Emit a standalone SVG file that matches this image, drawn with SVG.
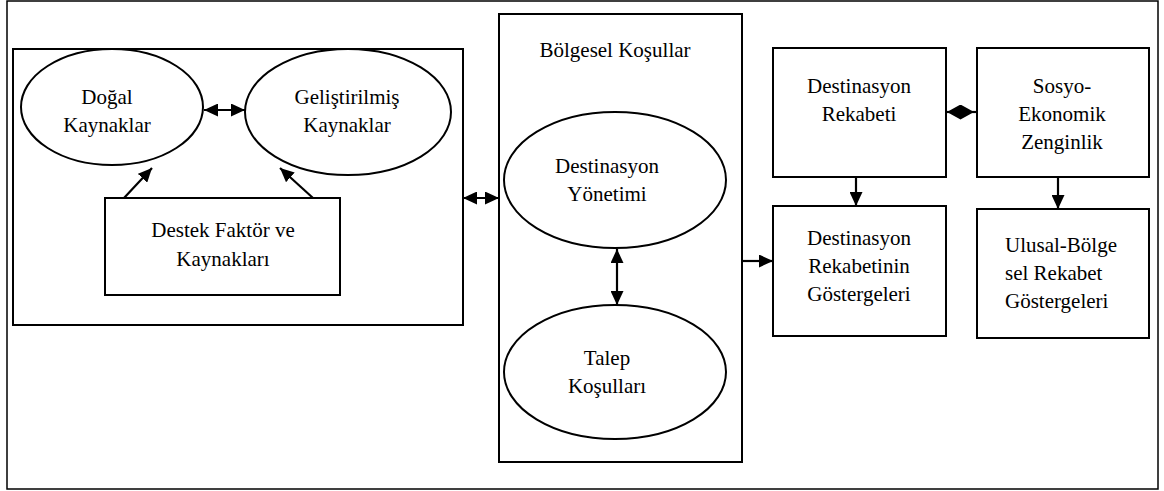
<svg xmlns="http://www.w3.org/2000/svg" width="1164" height="491" viewBox="0 0 1164 491">
<style>
.box{fill:#fff;stroke:#000;stroke-width:2}
.ell{fill:#fff;stroke:#000;stroke-width:2}
.frame{fill:#fff;stroke:#000;stroke-width:1.5}
text{font-family:'Liberation Serif','DejaVu Serif',serif;font-size:21px;fill:#000;text-anchor:middle}
.conn line{stroke:#000;stroke-width:2.2}
</style>
<defs>
<marker id="ah" viewBox="0 0 14 13" refX="14" refY="6.5" markerWidth="14" markerHeight="13" markerUnits="userSpaceOnUse" orient="auto-start-reverse">
<path d="M0,0 L14,6.5 L0,13 z" fill="#000"/>
</marker>
<marker id="dm" viewBox="0 0 27 15" refX="27" refY="7.5" markerWidth="27" markerHeight="15" markerUnits="userSpaceOnUse" orient="auto">
<path d="M0,7.5 L13.5,0 L27,7.5 L13.5,15 z" fill="#000"/>
</marker>
</defs>
<rect class="frame" x="7" y="1" width="1151" height="488"/>
<g id="left-group">
<rect class="box" x="13" y="49" width="450" height="276"/>
</g>
<g id="dogal">
<ellipse class="ell" cx="112" cy="107" rx="91" ry="58"/>
<text x="107" y="104">Doğal</text>
<text x="107" y="132">Kaynaklar</text>
</g>
<g id="gelistirilmis">
<ellipse class="ell" cx="348" cy="112" rx="103" ry="63"/>
<text x="347" y="104">Geliştirilmiş</text>
<text x="347" y="132">Kaynaklar</text>
</g>
<g id="destek">
<rect class="box" x="105" y="198" width="235" height="97"/>
<text x="223" y="237">Destek Faktör ve</text>
<text x="223" y="266">Kaynakları</text>
</g>
<g id="bolgesel">
<rect class="box" x="499" y="14" width="243" height="448"/>
<text x="615" y="57">Bölgesel Koşullar</text>
</g>
<g id="yonetim">
<ellipse class="ell" cx="615" cy="180" rx="111" ry="68"/>
<text x="607" y="173">Destinasyon</text>
<text x="607" y="201">Yönetimi</text>
</g>
<g id="talep">
<ellipse class="ell" cx="615" cy="372" rx="111" ry="67"/>
<text x="607" y="365">Talep</text>
<text x="607" y="393">Koşulları</text>
</g>
<g id="rekabet">
<rect class="box" x="773" y="48" width="173" height="129"/>
<text x="859" y="93">Destinasyon</text>
<text x="859" y="121">Rekabeti</text>
</g>
<g id="sosyo">
<rect class="box" x="977" y="48" width="172" height="129"/>
<text x="1062" y="93">Sosyo-</text>
<text x="1062" y="121">Ekonomik</text>
<text x="1062" y="149">Zenginlik</text>
</g>
<g id="gostergeler">
<rect class="box" x="773" y="206" width="173" height="130"/>
<text x="859" y="245">Destinasyon</text>
<text x="859" y="273">Rekabetinin</text>
<text x="859" y="301">Göstergeleri</text>
</g>
<g id="ulusal">
<rect class="box" x="977" y="209" width="172" height="129"/>
<text x="1005" y="252" style="text-anchor:start">Ulusal-Bölge</text>
<text x="1005" y="280" style="text-anchor:start">sel Rekabet</text>
<text x="1005" y="308" style="text-anchor:start">Göstergeleri</text>
</g>
<g id="connectors" class="conn">
<line x1="204" y1="110" x2="245" y2="110" marker-start="url(#ah)" marker-end="url(#ah)"/>
<line x1="124" y1="198" x2="152" y2="168" marker-end="url(#ah)"/>
<line x1="313" y1="198" x2="280" y2="168" marker-end="url(#ah)"/>
<line x1="463" y1="198" x2="499" y2="198" marker-start="url(#ah)" marker-end="url(#ah)"/>
<line x1="617" y1="249" x2="617" y2="305" marker-start="url(#ah)" marker-end="url(#ah)"/>
<line x1="742" y1="261" x2="773" y2="261" marker-end="url(#ah)"/>
<line x1="977" y1="112" x2="947" y2="112" marker-end="url(#dm)"/>
<line x1="856" y1="177" x2="856" y2="206" marker-end="url(#ah)"/>
<line x1="1058" y1="177" x2="1058" y2="209" marker-end="url(#ah)"/>
</g>
</svg>
